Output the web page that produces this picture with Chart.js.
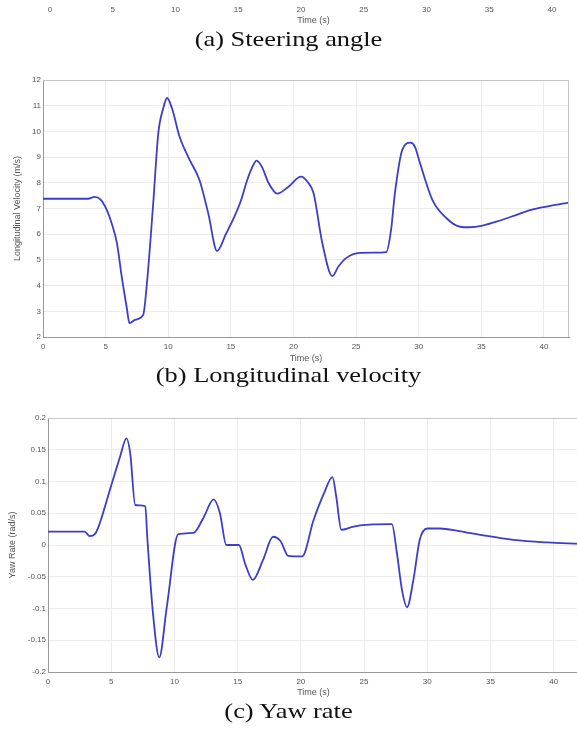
<!DOCTYPE html>
<html>
<head>
<meta charset="utf-8">
<script src="https://cdn.jsdelivr.net/npm/chart.js@4.4.1/dist/chart.umd.min.js"></script>
<style>
html, body { margin: 0; padding: 0; background: #fff; width: 577px; height: 729px; overflow: hidden; position: relative; }
.box { position: absolute; left: 0; }
.cap { position: absolute; left: 0; width: 577px; text-align: center; font-family: "Liberation Serif", "Times New Roman", serif; font-size: 22px; line-height: 24px; color: #111; transform: scaleX(1.2); }
</style>
</head>
<body>
<div class="box" style="top:-100px;width:577px;height:128px"><canvas id="steerChart"></canvas></div>
<div class="cap" style="top:27px">(a) Steering angle</div>
<div class="box" style="top:60px;width:577px;height:306px"><canvas id="velChart"></canvas></div>
<div class="cap" style="top:363px">(b) Longitudinal velocity</div>
<div class="box" style="top:400px;width:582px;height:300px"><canvas id="yawChart"></canvas></div>
<div class="cap" style="top:699px">(c) Yaw rate</div>

<script>
// time axis ticks (shared by all three plots)
const xTicks = [0, 5, 10, 15, 20, 25, 30, 35, 40];
const xMax = 42;

// (b) longitudinal velocity
const timeB = [0, 3.6, 4.1, 4.6, 5.1, 5.5, 5.9, 6.3, 6.7, 6.9, 7.4, 8.0, 8.3, 8.8, 9.2, 9.6, 9.9, 10.3, 10.9, 11.7,
  12.5, 13.2, 13.9, 14.6, 15.3, 15.8, 16.3, 16.7, 17.05, 17.5, 18.0, 18.7, 19.6, 20.6, 21.1, 21.6, 22.3, 23.1, 23.6, 24.2,
  25.3, 26.3, 27.4, 27.8, 28.1, 28.7, 29.35, 29.7, 30.1, 31.1, 32.2, 33.3, 34.1, 35.0, 36.2, 37.5, 38.9, 40.5, 42];
const velocity = [7.38, 7.38, 7.45, 7.35, 6.94, 6.4, 5.66, 4.3, 3.1, 2.54, 2.68, 2.86, 4.1, 7.2, 9.9, 10.9, 11.3, 10.9, 9.8, 8.9,
  8.1, 6.8, 5.35, 6.0, 6.7, 7.3, 8.1, 8.6, 8.86, 8.6, 8.0, 7.58, 7.85, 8.24, 8.05, 7.6, 5.66, 4.37, 4.75, 5.07,
  5.27, 5.28, 5.3, 6.2, 7.6, 9.3, 9.56, 9.4, 8.77, 7.33, 6.63, 6.29, 6.27, 6.32, 6.49, 6.7, 6.94, 7.1, 7.23];
const velTicks = [2, 3, 4, 5, 6, 7, 8, 9, 10, 11, 12];

// (c) yaw rate
const timeC = [0, 2.9, 3.3, 3.7, 4.0, 4.9, 5.7, 6.2, 6.5, 6.9, 7.7, 7.85, 8.3, 8.8, 9.4, 10.3, 11.5, 12.3, 13.1, 13.6,
  14.1, 15.1, 15.6, 16.2, 17.0, 17.8, 18.4, 19.0, 20.1, 21.0, 21.8, 22.5, 22.8, 23.2, 24.0, 24.7, 27.2, 27.6, 28.0, 28.4,
  28.9, 29.4, 30.0, 31.0, 32.5, 34.2, 36.8, 39.5, 42];
const yawRate = [0.021, 0.021, 0.014, 0.017, 0.029, 0.087, 0.139, 0.168, 0.145, 0.063, 0.061, 0.013, -0.107, -0.177, -0.097, 0.017, 0.019, 0.043, 0.072, 0.05,
  0.0, 0.0, -0.03, -0.055, -0.024, 0.013, 0.006, -0.017, -0.018, 0.039, 0.08, 0.107, 0.076, 0.024, 0.028, 0.031, 0.033, -0.013, -0.071, -0.098,
  -0.055, 0.008, 0.026, 0.026, 0.022, 0.016, 0.008, 0.004, 0.002];
const yawTicks = [-0.2, -0.15, -0.1, -0.05, 0, 0.05, 0.1, 0.15, 0.2];

const tickFont = { family: 'Liberation Sans, Arial, sans-serif', size: 8 };
const titleFont = { family: 'Liberation Sans, Arial, sans-serif', size: 9 };
const textColor = '#555';
const gridColor = '#ececec';
const lineColor = '#3d3dcc';

// light box on top and right of the plot area
const framePlugin = {
  id: 'frame',
  afterDraw(chart) {
    const a = chart.chartArea;
    const c = chart.ctx;
    c.save();
    c.strokeStyle = '#c6c6c6';
    c.lineWidth = 1;
    c.beginPath();
    c.moveTo(a.left, Math.round(a.top) + 0.5);
    c.lineTo(Math.round(a.right) - 0.5, Math.round(a.top) + 0.5);
    c.lineTo(Math.round(a.right) - 0.5, a.bottom);
    c.stroke();
    c.restore();
  }
};

function timeAxis(height, titlePad, showGrid) {
  return {
    type: 'linear',
    min: 0,
    max: xMax,
    afterBuildTicks: s => { s.ticks = xTicks.map(v => ({ value: v })); },
    afterFit: s => { s.height = height; },
    grid: { display: showGrid, color: gridColor, drawTicks: false },
    border: { display: showGrid, color: '#999' },
    ticks: { font: tickFont, color: textColor, padding: 5, maxRotation: 0 },
    title: { display: true, text: 'Time (s)', font: titleFont, color: textColor, padding: { top: 0, bottom: titlePad } }
  };
}

function valueAxis(ticks, width, label, titlePad) {
  return {
    type: 'linear',
    min: ticks[0],
    max: ticks[ticks.length - 1],
    afterBuildTicks: s => { s.ticks = ticks.map(v => ({ value: v })); },
    afterFit: s => { s.width = width; },
    grid: { color: gridColor, drawTicks: false },
    border: { color: '#999' },
    ticks: { font: tickFont, color: textColor, padding: 2, callback: v => String(+v.toFixed(2)) },
    title: { display: true, text: label, font: titleFont, color: textColor, padding: { top: titlePad, bottom: 0 } }
  };
}

function lineSet(times, values) {
  return {
    data: times.map((t, i) => ({ x: t, y: values[i] })),
    borderColor: lineColor,
    borderWidth: 1.8,
    pointRadius: 0,
    cubicInterpolationMode: 'monotone',
    fill: false
  };
}

const common = {
  responsive: true,
  maintainAspectRatio: false,
  animation: false,
  plugins: { legend: { display: false }, tooltip: { enabled: false } }
};

// (a) only the bottom of the steering plot is visible
new Chart(document.getElementById('steerChart'), {
  type: 'line',
  data: { datasets: [] },
  options: {
    ...common,
    layout: { padding: { left: 50, right: 0, top: 10, bottom: 0 } },
    scales: {
      x: timeAxis(28, 1.6, false),
      y: { display: false, min: 0, max: 1 }
    }
  }
});

// (b) longitudinal velocity
new Chart(document.getElementById('velChart'), {
  type: 'line',
  data: { datasets: [lineSet(timeB, velocity)] },
  options: {
    ...common,
    layout: { padding: { left: 0, right: 8, top: 20, bottom: 0 } },
    scales: {
      x: timeAxis(29, 1.6, true),
      y: valueAxis(velTicks, 43, 'Longitudinal Velocity (m/s)', 12.6)
    }
  },
  plugins: [framePlugin]
});

// (c) yaw rate
new Chart(document.getElementById('yawChart'), {
  type: 'line',
  data: { datasets: [lineSet(timeC, yawRate)] },
  options: {
    ...common,
    layout: { padding: { left: 0, right: 3, top: 18, bottom: 0 } },
    scales: {
      x: timeAxis(28, 1.6, true),
      y: valueAxis(yawTicks, 48, 'Yaw Rate (rad/s)', 7.6)
    }
  },
  plugins: [framePlugin]
});
</script>
</body>
</html>
